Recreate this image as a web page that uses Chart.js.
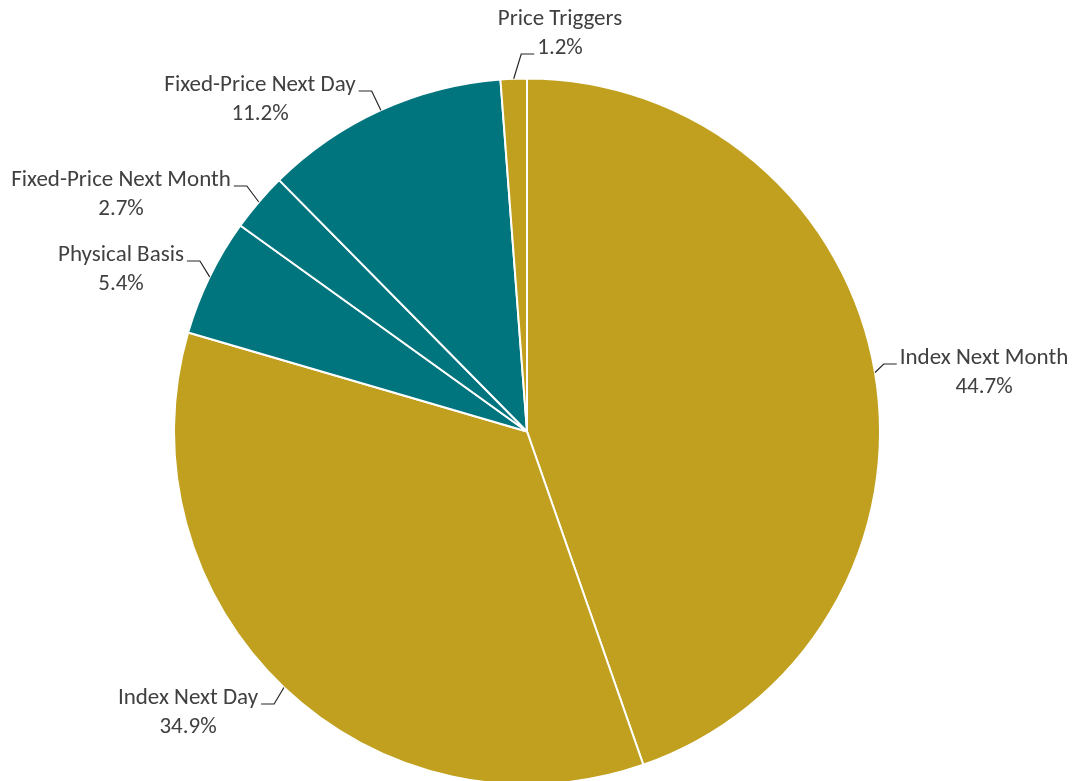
<!DOCTYPE html>
<html>
<head>
<meta charset="utf-8">
<script src="https://cdn.jsdelivr.net/npm/chart.js@4.4.0/dist/chart.umd.min.js"></script>
<style>
  html, body { margin: 0; padding: 0; background: #ffffff; }
  #wrap { width: 1074px; height: 781px; position: relative; overflow: hidden; }
</style>
</head>
<body>
<div id="wrap"><canvas id="c"></canvas></div>
<script>
// ---- data ----
const categories = ["Index Next Month", "Index Next Day", "Physical Basis", "Fixed-Price Next Month", "Fixed-Price Next Day", "Price Triggers"];
const shares = [44.7, 34.9, 5.4, 2.7, 11.2, 1.2];
const pctLabels = ["44.7%", "34.9%", "5.4%", "2.7%", "11.2%", "1.2%"];
const sliceColors = ["#C0A01E", "#C0A01E", "#00757D", "#00757D", "#00757D", "#C0A01E"];

// ---- label placement (text block centre, first line y, side, which line the leader attaches to) ----
const labelLayout = [
  { cx: 984, y: 358, side: "right", attach: 0 },
  { cx: 188, y: 698, side: "left",  attach: 0 },
  { cx: 121, y: 255, side: "left",  attach: 0 },
  { cx: 121, y: 180, side: "left",  attach: 0 },
  { cx: 260, y: 85,  side: "left",  attach: 0 },
  { cx: 560, y: 19,  side: "right", attach: 1 }
];

const FONT = '23px "Carlito", "Lato", "Open Sans", sans-serif';
const LINE_H = 29;
const TEXT_COLOR = "#404040";

const leaderPlugin = {
  id: "leaders",
  afterDraw(chart) {
    const ctx = chart.ctx;
    const meta = chart.getDatasetMeta(0);
    ctx.save();
    ctx.font = FONT;
    ctx.fillStyle = TEXT_COLOR;
    ctx.textBaseline = "middle";
    ctx.textAlign = "center";
    meta.data.forEach((arc, i) => {
      const p = arc.getProps(["x", "y", "startAngle", "endAngle", "outerRadius"], true);
      const mid = (p.startAngle + p.endAngle) / 2;
      const sx = p.x + Math.cos(mid) * p.outerRadius;
      const sy = p.y + Math.sin(mid) * p.outerRadius;
      const L = labelLayout[i];
      const lines = [categories[i], pctLabels[i]];
      lines.forEach((t, k) => ctx.fillText(t, L.cx, L.y + k * LINE_H));
      const w = ctx.measureText(lines[L.attach]).width;
      const ly = L.y + L.attach * LINE_H + 6;
      let endX, elbowX;
      if (L.side === "left") {
        endX = L.cx + w / 2 + 3;
        elbowX = endX + 13;
      } else {
        endX = L.cx - w / 2 - 3;
        elbowX = endX - 13;
      }
      ctx.beginPath();
      ctx.strokeStyle = "#262626";
      ctx.lineWidth = 1.2;
      ctx.moveTo(sx, sy);
      ctx.lineTo(elbowX, ly);
      ctx.lineTo(endX, ly);
      ctx.stroke();
    });
    ctx.restore();
  }
};

new Chart(document.getElementById("c"), {
  type: "pie",
  data: {
    labels: categories,
    datasets: [{
      data: shares,
      backgroundColor: sliceColors,
      borderColor: "#ffffff",
      borderWidth: 2,
      radius: 353
    }]
  },
  options: {
    responsive: true,
    maintainAspectRatio: false,
    animation: false,
    layout: { padding: { top: 82, bottom: 0, left: 176, right: 196 } },
    plugins: {
      legend: { display: false },
      tooltip: { enabled: false }
    }
  },
  plugins: [leaderPlugin]
});
</script>
</body>
</html>
